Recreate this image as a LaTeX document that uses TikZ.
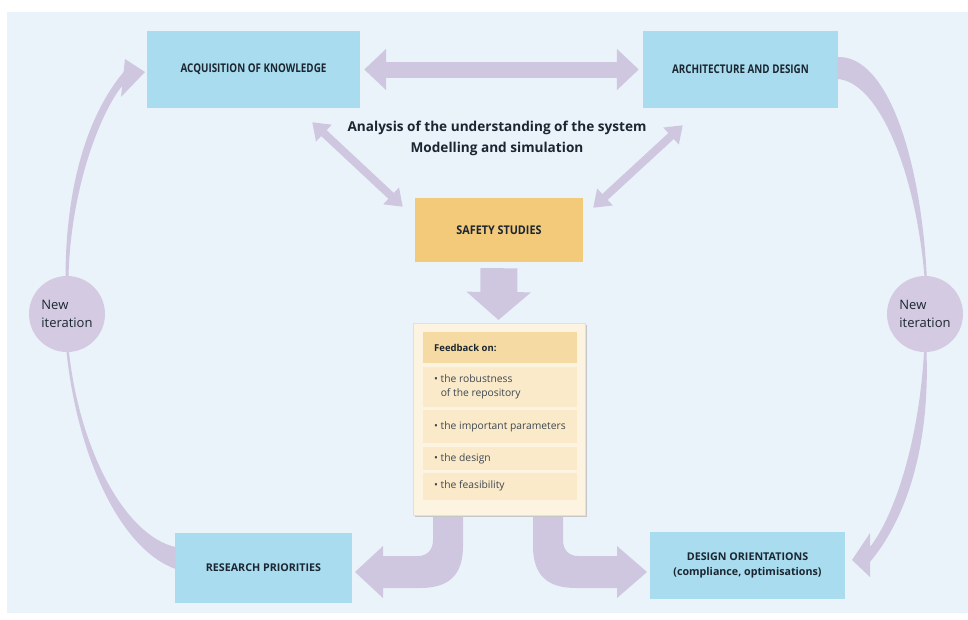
\documentclass[tikz,border=0pt]{standalone}
\usepackage{fontspec}
\setmainfont{Open Sans}
\usetikzlibrary{arrows.meta}
\definecolor{bgc}{HTML}{EBF3FA}
\definecolor{boxc}{HTML}{A9DCEE}
\definecolor{lav}{HTML}{CFC7E0}
\definecolor{circc}{HTML}{D4CAE1}
\definecolor{safec}{HTML}{F3C97A}
\definecolor{fbout}{HTML}{FCF4E1}
\definecolor{fbrow}{HTML}{FAEACA}
\definecolor{fbhead}{HTML}{F5DBA3}
\definecolor{txt}{HTML}{1B2631}
\tikzset{
  bluebox/.style={fill=boxc, draw=none, inner sep=0pt, text=txt, align=center, font=\bfseries\fontsize{10.7}{14.5}\selectfont},
  condlabel/.style={fill=boxc, draw=none, inner sep=0pt, text=txt, align=center, font=\bfseries\fontsize{12}{14}\selectfont},
  rowbox/.style={fill=fbrow, draw=none, inner sep=0pt, minimum width=154pt},
  rowtext/.style={anchor=west, align=left, inner sep=0pt, text=txt!85, font=\fontsize{10.3}{14}\selectfont},
  itcircle/.style={circle, fill=circc, draw=none, minimum size=76pt, inner sep=0pt, align=left, text=txt, font=\fontsize{13}{18}\selectfont},
  bigdbl/.style={draw=lav, line width=16pt, {Triangle[width=40pt,length=22pt]}-{Triangle[width=40pt,length=22pt]}},
  diagdbl/.style={draw=lav, line width=8pt, {Triangle[width=22pt,length=16pt]}-{Triangle[width=22pt,length=16pt]}},
  downarrow/.style={draw=lav, line width=37pt, -{Triangle[width=63pt,length=28pt]}},
  band/.style={fill=lav, draw=none}
}
\begin{document}
\begin{tikzpicture}[x=1pt,y=-1pt]
\useasboundingbox (0,0) rectangle (968,619);
\fill[white] (0,0) rectangle (968,619);
\fill[bgc] (7,12) rectangle (968,613);

% main boxes
\node[condlabel, minimum width=213pt, minimum height=77pt] (acq) at (253.5,69.5) {\scalebox{0.82}[1]{ACQUISITION OF KNOWLEDGE}};
\node[condlabel, minimum width=195pt, minimum height=77pt] (arch) at (740.5,69.5) {\scalebox{0.82}[1]{ARCHITECTURE AND DESIGN}};
\node[condlabel, fill=safec, minimum width=168pt, minimum height=64pt] (safe) at (499,230) {\scalebox{0.9}[1]{SAFETY STUDIES}};
\node[bluebox, minimum width=177pt, minimum height=70pt] (res) at (263.5,568) {RESEARCH PRIORITIES};
\node[bluebox, minimum width=195pt, minimum height=67pt] (des) at (747.5,565.5) {DESIGN ORIENTATIONS\\(compliance, optimisations)};

% central text
\node[align=center, text=txt, font=\bfseries\fontsize{13.6}{21}\selectfont] (analysis) at (497,138) {Analysis of the understanding of the system\\Modelling and simulation};

% straight arrows
\draw[bigdbl] ([xshift=4pt]acq.east) -- ([xshift=-4pt]arch.west);
\draw[diagdbl] ([xshift=-48pt,yshift=-14pt]acq.south east) -- ([xshift=-12pt,yshift=-9pt]safe.north west);
\draw[diagdbl] ([xshift=40pt,yshift=-17pt]arch.south west) -- ([xshift=10pt,yshift=-10pt]safe.north east);

% bottom curved arrows from the feedback box
\fill[band] (463,505) -- (463,546) .. controls (463,576) and (448,588) .. (420,588) -- (383,588) -- (383,598) -- (355,572) -- (383,546) -- (383,556) -- (418,556) .. controls (427,556) and (433,550) .. (433,540) -- (433,505) -- cycle;
\fill[band] (533,505) -- (533,546) .. controls (533,576) and (548,588) .. (576,588) -- (617,588) -- (617,598) -- (647,572) -- (617,546) -- (617,556) -- (578,556) .. controls (569,556) and (563,550) .. (563,540) -- (563,505) -- cycle;

% down arrow
\draw[downarrow] ([yshift=-6pt]safe.south) -- (498.5,320);

% feedback box
\fill[black!22] (414.5,324.5) rectangle (586.5,517);
\node[fill=fbout, draw=black!12, line width=0.4pt, minimum width=172pt, minimum height=192pt, inner sep=0pt] (fb) at (499,419) {};
\node[fill=fbhead, inner sep=0pt, minimum width=154pt, minimum height=31pt] (fbh) at (500,347.5) {};
\node[rowbox, minimum height=40pt] (r1) at (500,387) {};
\node[rowbox, minimum height=33pt] (r2) at (500,426.5) {};
\node[rowbox, minimum height=23pt] (r3) at (500,458.5) {};
\node[rowbox, minimum height=27pt] (r4) at (500,486) {};
\node[rowtext, text=txt, font=\bfseries\fontsize{9.5}{12}\selectfont] (fbt) at (434,347.5) {Feedback on:};
\node[rowtext] (t1) at (434,387) {•\ the robustness\\\phantom{•\ }of the repository};
\node[rowtext] (t2) at (434,426.5) {•\ the important parameters};
\node[rowtext] (t3) at (434,458.5) {•\ the design};
\node[rowtext] (t4) at (434,486) {•\ the feasibility};

% iteration loops
% left lower: research -> circle
\fill[band] (66.5,352) .. controls (77,452) and (118,548) .. (175.5,569) -- (175.5,547) .. controls (126,536) and (80,452) .. (69,352) -- cycle;
% left upper: circle -> acquisition
\fill[band] (65.5,276) .. controls (66,180) and (90,112) .. (123.6,72) -- (125,59) -- (145,72) -- (121,97) -- (122.2,86) .. controls (102,110) and (71,185) .. (68.5,276) -- cycle;
% right upper: architecture -> circle
\fill[band] (837.5,57) .. controls (888,55) and (921,160) .. (926.8,277) -- (924.5,277) .. controls (916,175) and (880,82) .. (837.5,79) -- cycle;
% right lower: circle -> design orientations
\fill[band] (926.5,352) .. controls (930,450) and (905,520) .. (870,562) -- (870,577) -- (852,560) -- (870,533) -- (870,547) .. controls (895,515) and (919,440) .. (924,352) -- cycle;

\node[itcircle] (cl) at (67,314) {New\\iteration};
\node[itcircle] (cr) at (925,314) {New\\iteration};
\end{tikzpicture}
\end{document}
